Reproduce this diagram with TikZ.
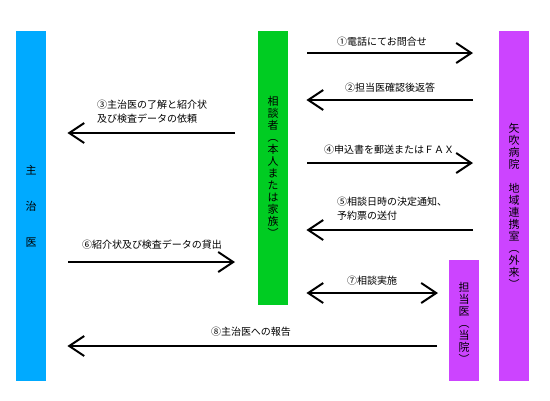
\documentclass[tikz,border=0pt]{standalone}
\usepackage{fontspec}
\setmainfont{Noto Sans CJK JP}
\newfontfamily\tatefont[RawFeature=+vert]{Noto Sans CJK JP}
\usetikzlibrary{arrows.meta,positioning,calc}
\definecolor{shujiblue}{RGB}{0,170,255}
\definecolor{soudangreen}{RGB}{0,204,34}
\definecolor{renkeipurple}{RGB}{204,68,255}
\tikzset{
  bar/.style={draw=none, minimum width=30pt, inner sep=0pt, anchor=north west},
  tate/.style={font=\tatefont\fontsize{11}{12}\selectfont, align=center, inner sep=0pt},
  lbl/.style={font=\fontsize{10}{14}\selectfont, inner sep=0pt, align=left},
  arr/.style={line width=2pt, -{Straight Barb[length=15pt,width=20pt,line width=2pt]}},
  darr/.style={line width=2pt, {Straight Barb[length=15pt,width=20pt,line width=2pt]}-{Straight Barb[length=15pt,width=20pt,line width=2pt]}}
}
\begin{document}
\begin{tikzpicture}[x=1pt,y=-1pt]
\useasboundingbox (0,0) rectangle (550,400);
% bars
\node[bar, fill=shujiblue, minimum height=350pt] (shuji) at (16,31) {};
\node[bar, fill=soudangreen, minimum height=274pt] (soudan) at (258,31) {};
\node[bar, fill=renkeipurple, minimum height=350pt] (renkei) at (499,31) {};
\node[bar, fill=renkeipurple, minimum height=121pt] (tanto) at (449,260) {};
% vertical labels
\node[tate] (shujiL) at (shuji.center) {主\\[24pt]治\\[24pt]医};
\node[tate] (soudanL) at ([yshift=1pt]soudan.center) {相\\談\\者\\（\\本\\人\\ま\\た\\は\\家\\族\\）};
\node[tate] (renkeiL) at (renkei.center) {矢\\吹\\病\\院\\　\\地\\域\\連\\携\\室\\（\\外\\来\\）};
\node[tate] (tantoL) at ([yshift=-2pt]tanto.center) {担\\当\\医\\（\\当\\院\\）};
% arrows
\draw[arr, shorten <=19pt, shorten >=26pt] (soudan.east|-0,53) -- (renkei.west|-0,53);
\node[lbl] (t1) at (382,42) {①電話にてお問合せ};
\draw[arr, shorten <=26pt, shorten >=18pt] (renkei.west|-0,100) -- (soudan.east|-0,100);
\node[lbl] (t2) at (390,88) {②担当医確認後返答};
\draw[arr, shorten <=23pt, shorten >=21pt] (soudan.west|-0,133) -- (shuji.east|-0,133);
\node[lbl, anchor=west] (t3) at (97,112) {③主治医の了解と紹介状\\及び検査データの依頼};
\draw[arr, shorten <=19pt, shorten >=26pt] (soudan.east|-0,163) -- (renkei.west|-0,163);
\node[lbl] (t4) at (389,150) {④申込書を郵送またはＦＡＸ};
\draw[arr, shorten <=26pt, shorten >=18pt] (renkei.west|-0,230) -- (soudan.east|-0,230);
\node[lbl, anchor=west] (t5) at (337,208.5) {⑤相談日時の決定通知、\\予約票の送付};
\draw[arr, shorten <=22pt, shorten >=23pt] (shuji.east|-0,262) -- (soudan.west|-0,262);
\node[lbl] (t6) at (152,245) {⑥紹介状及び検査データの貸出};
\draw[darr, shorten <=18pt, shorten >=11pt] (soudan.east|-0,293) -- (tanto.west|-0,293);
\node[lbl] (t7) at (372,281) {⑦相談実施};
\draw[arr, shorten <=12pt, shorten >=21pt] (tanto.west|-0,346) -- (shuji.east|-0,346);
\node[lbl] (t8) at (251,332) {⑧主治医への報告};
\end{tikzpicture}
\end{document}
